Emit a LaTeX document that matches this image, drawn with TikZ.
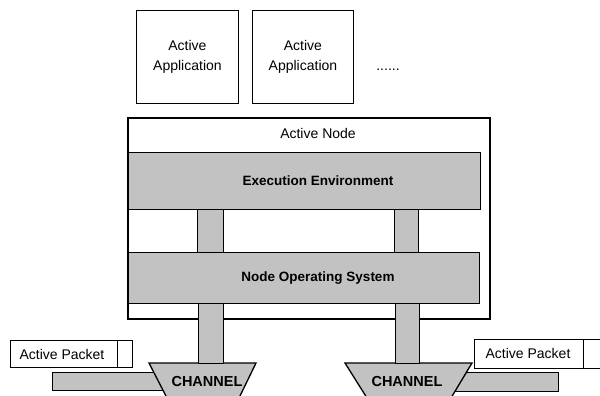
\documentclass[tikz,border=0pt]{standalone}
\usepackage{fontspec}
\setmainfont{Liberation Sans}
\begin{document}
\begin{tikzpicture}[x=1pt,y=-1pt,
  txt/.style={font=\fontsize{14}{20}\selectfont},
  btxt/.style={font=\fontsize{13.5}{16}\selectfont\bfseries},
  ctxt/.style={font=\fontsize{14.5}{16}\selectfont\bfseries},
  appbox/.style={draw, line width=0.9pt, fill=white, anchor=north west, inner sep=0pt, minimum width=#1, minimum height=93},
  graybox/.style={draw, line width=1.3pt, fill=black!24, anchor=north west, inner sep=0pt},
  pillar/.style={graybox, minimum width=#1},
  chan/.style={draw, line width=1.3pt, fill=black!24},
  pkt/.style={draw, line width=1pt, fill=white, anchor=north west, inner sep=0pt},
  lbl/.style={txt, inner sep=0pt}
]
\useasboundingbox (0,0) rectangle (600,396);

% bars under channels
\node[graybox, minimum width=113, minimum height=18] (barL) at (52,372) {};
\node[graybox, minimum width=103, minimum height=19] (barR) at (455,372) {};

% channels
\draw[chan] (149,363) -- (256,363) -- (239,398) -- (167,398) -- cycle;
\node[ctxt] (chLt) at (207,382) {CHANNEL};
\draw[chan] (345,363) -- (472,363) -- (451,398) -- (367,398) -- cycle;
\node[ctxt] (chRt) at (407,382) {CHANNEL};

% packets
\node[pkt, minimum width=122, minimum height=27] (pktL) at (10,340) {};
\draw[line width=1pt] (pktL.north west) ++(107,0) coordinate (dL1) -- (dL1 |- pktL.south);
\node[lbl] (pktLt) at (62,354) {Active Packet};
\node[pkt, minimum width=127, minimum height=29] (pktR) at (474,339) {};
\draw[line width=1pt] (pktR.north west) ++(109,0) coordinate (dR1) -- (dR1 |- pktR.south);
\node[lbl] (pktRt) at (528,353) {Active Packet};

% applications
\node[appbox=102, align=center, txt, anchor=north west] (app1) at (136,10) {Active\\Application};
\node[appbox=101, align=center, txt, anchor=north west] (app2) at (252,10) {Active\\Application};
\node[lbl] (dots) at (388,70) {......};

% active node
\node[draw, line width=1.6pt, fill=white, anchor=north west, inner sep=0pt, minimum width=362, minimum height=201] (an) at (127,117) {};
\node[lbl] (anl) at (318,133) {Active Node};

% execution environment and node OS
\node[graybox, minimum width=352, minimum height=57] (ee) at (128,152) {};
\node[btxt] (eet) at (318,181) {Execution Environment};
\node[graybox, minimum width=351, minimum height=51] (nos) at (128,252) {};
\node[btxt] (nost) at (318,278) {Node Operating System};

% pillars between EE and NOS
\node[pillar=26, minimum height=43] (p1) at (197,209) {};
\node[pillar=24, minimum height=43] (p2) at (394,209) {};
% pillars between NOS and channels
\node[pillar=25, minimum height=60] (p3) at (198,303) {};
\node[pillar=24, minimum height=60] (p4) at (395,303) {};
\end{tikzpicture}
\end{document}
